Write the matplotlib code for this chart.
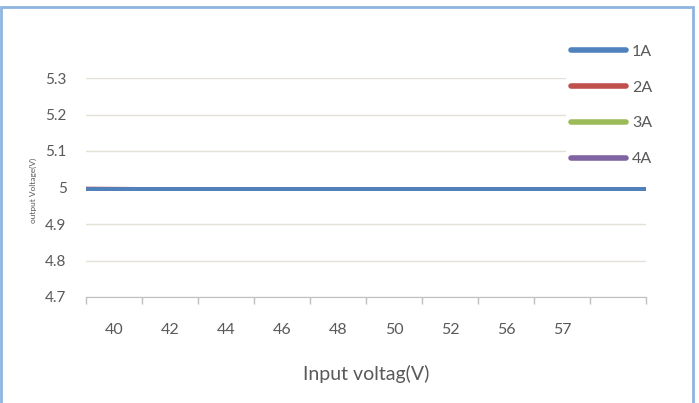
import numpy as np
import matplotlib
matplotlib.use("Agg")
import matplotlib.pyplot as plt
from matplotlib.patches import Rectangle

# category labels (last slot is empty in the original chart)
categories = ["40", "42", "44", "46", "48", "50", "52", "56", "57", ""]
# output voltage per load current
v_1a = [4.995, 4.995, 4.995, 4.995, 4.995, 4.995, 4.995, 4.995, 4.995, 4.995, 4.995]
v_2a = [4.997, 4.996, 4.996, 4.996, 4.996, 4.996, 4.996, 4.996, 4.996, 4.996, 4.996]
v_3a = [4.996, 4.996, 4.996, 4.996, 4.996, 4.996, 4.996, 4.996, 4.996, 4.996, 4.996]
v_4a = [4.996, 4.996, 4.996, 4.996, 4.996, 4.996, 4.996, 4.996, 4.996, 4.996, 4.996]
yticks = [4.7, 4.8, 4.9, 5.0, 5.1, 5.2, 5.3]
ytick_labels = ["4.7", "4.8", "4.9", "5", "5.1", "5.2", "5.3"]

plt.rcParams["font.family"] = ["Lato", "DejaVu Sans"]
txt = "#595959"

fig = plt.figure(figsize=(6.99, 4.03), dpi=100)
ax = fig.add_axes([86/699, 1-297/403, (646-86)/699, (297-78)/403])

x = np.arange(len(v_1a))
series = [("4A", v_4a, "#8064A2"), ("3A", v_3a, "#9BBB59"),
          ("2A", v_2a, "#C0504D"), ("1A", v_1a, "#4F81BD")]
handles = {}
for name, vals, col in series:
    h, = ax.plot(x, vals, color=col, lw=2.8, solid_capstyle="butt", clip_on=False, zorder=3)
    handles[name] = h

ax.set_xlim(0, len(categories))
ax.set_ylim(4.7, 5.3)
ax.set_yticks(yticks)
ax.set_yticklabels(ytick_labels)
ax.yaxis.grid(True, color="#E3E0D6", lw=1)
ax.set_axisbelow(True)
ax.tick_params(axis="y", length=0, labelsize=11, labelcolor=txt, pad=14)

ax.set_xticks(np.arange(len(categories) + 1))
ax.set_xticklabels([])
ax.set_xticks(np.arange(len(categories)) + 0.5, minor=True)
ax.set_xticklabels(categories, minor=True)
ax.tick_params(axis="x", which="major", length=5, color="#BFBFBF", width=1)
ax.tick_params(axis="x", which="minor", length=0, labelsize=11.5, labelcolor=txt, pad=19)

for s in ["top", "right", "left"]:
    ax.spines[s].set_visible(False)
ax.spines["bottom"].set_color("#BFBFBF")

ax.set_xlabel("Input voltag(V)", fontsize=14, color=txt, labelpad=20)
fig.text(33/699, 1-190/403, "output Voltage(V)", rotation=90, fontsize=6,
         color=txt, ha="center", va="center")

leg = fig.legend([handles[k] for k in ["1A", "2A", "3A", "4A"]], ["1A", "2A", "3A", "4A"],
                 loc="upper right", bbox_to_anchor=(665/699, 1-32/403), frameon=True,
                 fontsize=11.5, labelspacing=1.35, handlelength=3.4, handletextpad=0.4,
                 borderpad=0.3)
leg.get_frame().set_edgecolor("none")
leg.get_frame().set_facecolor("white")
leg.get_frame().set_alpha(1)
for t in leg.get_texts():
    t.set_color(txt)
for h in leg.legend_handles:
    h.set_linewidth(4)
    h.set_solid_capstyle("round")

fig.patches.append(Rectangle((1/699, -10/403), 692/699, 406/403, transform=fig.transFigure,
                             fill=False, edgecolor="#8DB4E2", lw=2))

fig.savefig("out.png", dpi=100)
